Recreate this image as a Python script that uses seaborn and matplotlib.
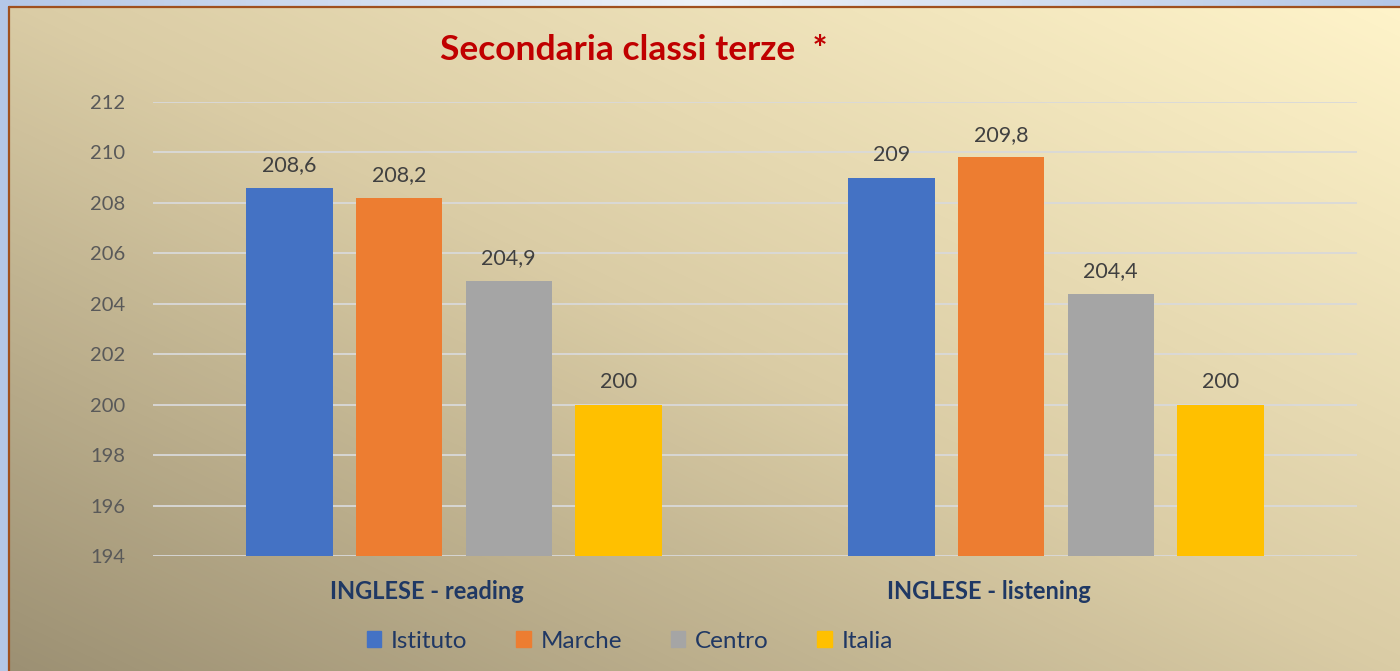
import numpy as np
import pandas as pd
import matplotlib
matplotlib.use("Agg")
import matplotlib.pyplot as plt
import matplotlib.patches as mpatches
import matplotlib.transforms as mtrans
from matplotlib.colors import LinearSegmentedColormap
import seaborn as sns

# ---- data ----
categories = ["INGLESE - reading", "INGLESE - listening"]
series = ["Istituto", "Marche", "Centro", "Italia"]
istituto = [208.6, 209.0]
marche = [208.2, 209.8]
centro = [204.9, 204.4]
italia = [200.0, 200.0]
yticks = [194, 196, 198, 200, 202, 204, 206, 208, 210, 212]
title = "Secondaria classi terze  *"

colors = ["#4472C4", "#ED7D31", "#A5A5A5", "#FFC000"]

rows = []
for name, vals in zip(series, [istituto, marche, centro, italia]):
    for c, v in zip(categories, vals):
        rows.append({"cat": c, "serie": name, "val": v})
df = pd.DataFrame(rows)

sns.set_theme(style="white")
plt.rcParams["font.family"] = ["Lato", "DejaVu Sans"]

W, H = 1400, 671
fig = plt.figure(figsize=(14, 6.71), dpi=100)

# ---- background gradient ----
bg = fig.add_axes([0, 0, 1, 1], zorder=-10)
yy, xx = np.mgrid[0:H, 0:W]
t = (xx / W + (1 - yy / H)) / 2.0
cmap = LinearSegmentedColormap.from_list(
    "bgc", [(0.0, "#9C9073"), (0.5, "#DACCA5"), (1.0, "#FFF4CA")])
bg.imshow(cmap(t), aspect="auto", extent=[0, 1, 0, 1], origin="upper")
# outer blue frame
bg.add_patch(mpatches.Rectangle((0, 0), 8 / W, 1, color="#B4C7E7", lw=0))
topgrad = LinearSegmentedColormap.from_list(
    "tp", [(0, "#B4C7E7"), (0.5, "#EEF2F8"), (1, "#B4C7E7")])
bg.imshow(topgrad(np.linspace(0, 1, W))[None, :, :], aspect="auto",
          extent=[0, 1, 1 - 6 / H, 1], origin="upper")
bg.plot([8.5 / W, 8.5 / W], [0, 1 - 6.5 / H], color="#A0501E", lw=1.6)
bg.plot([8.5 / W, 1], [1 - 6.5 / H, 1 - 6.5 / H], color="#A0501E", lw=1.6)
bg.set_xlim(0, 1)
bg.set_ylim(0, 1)
bg.axis("off")

# ---- main axes ----
ax = fig.add_axes([153 / W, 1 - 556 / H, 1204 / W, 454 / H])
ax.patch.set_alpha(0)
sns.barplot(data=df, x="cat", y="val", hue="serie", order=categories,
            hue_order=series, palette=colors, width=0.728, gap=0.21,
            saturation=1, ax=ax, legend=True, edgecolor="none", linewidth=0)
ax.set_ylim(194, 212)
ax.set_xlim(-0.5, 1.5)
ax.set_yticks(yticks)
ax.yaxis.grid(True, color="#D9D9D9", lw=1.3)
ax.set_axisbelow(True)
for s in ax.spines.values():
    s.set_visible(False)
ax.tick_params(axis="y", length=0, pad=20, labelsize=14.5, labelcolor="#595959")
ax.tick_params(axis="x", length=0, pad=17, labelsize=17, labelcolor="#1F3864")
for lab in ax.get_xticklabels():
    lab.set_fontweight("bold")
offs = [-27, -67]
for lab, o in zip(ax.get_xticklabels(), offs):
    lab.set_transform(lab.get_transform() + mtrans.ScaledTranslation(o / 100, 0, fig.dpi_scale_trans))
ax.set_xlabel("")
ax.set_ylabel("")

for cont in ax.containers:
    labels = [f"{v:g}".replace(".", ",") for v in cont.datavalues]
    ax.bar_label(cont, labels=labels, padding=9, fontsize=15.5, color="#404040")

handles = [mpatches.Patch(color=c) for c in colors]
ax.legend(handles, series, loc="center", bbox_to_anchor=(630 / W, 1 - 641 / H),
          bbox_transform=fig.transFigure, ncol=4, frameon=False,
          handlelength=0.6, handleheight=0.6, handletextpad=0.4,
          columnspacing=2.0, prop={"size": 17.5},
          labelcolor="#203864")

fig.text(634 / W, 1 - 50 / H, title, ha="center", va="center",
         fontsize=25.5, fontweight="bold", color="#C00000")

fig.savefig("out.png", dpi=100)
